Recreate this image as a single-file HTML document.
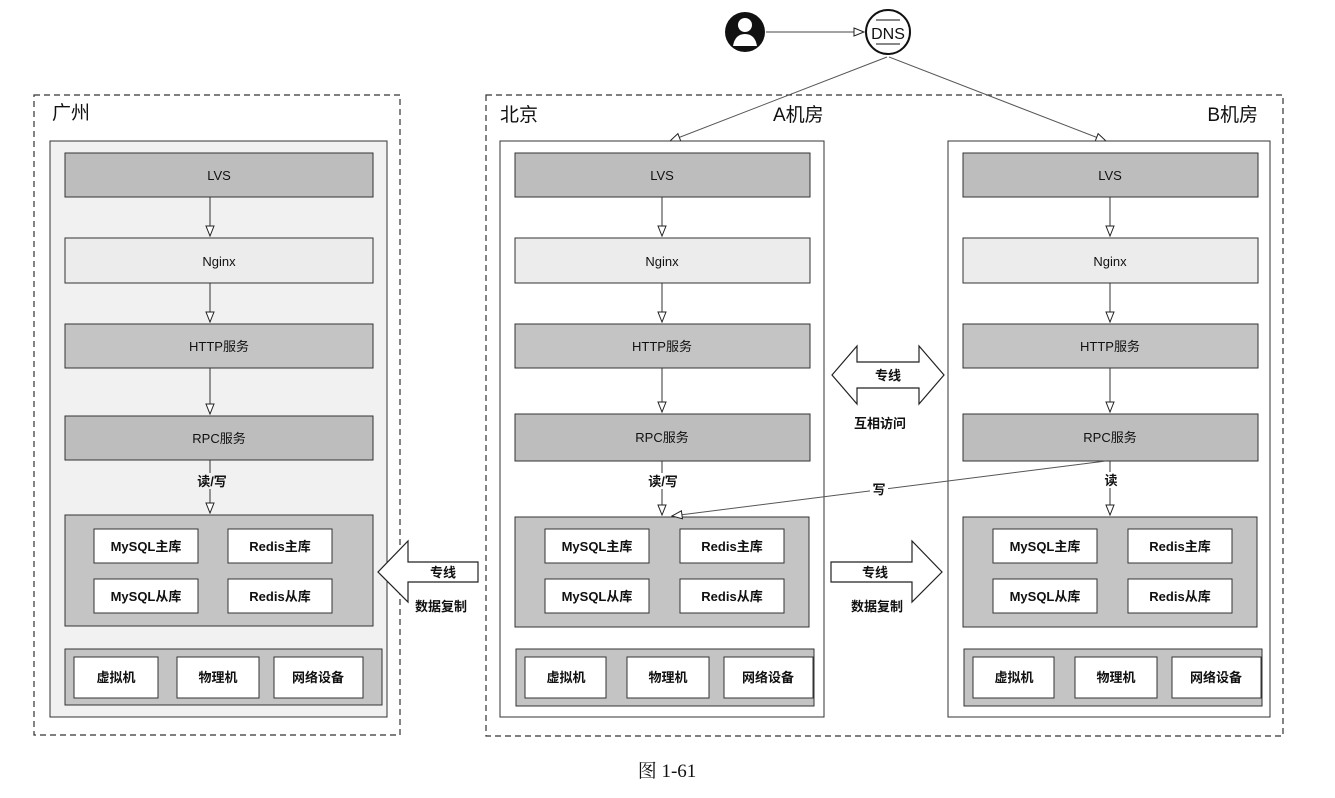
<!DOCTYPE html>
<html><head><meta charset="utf-8"><style>
body{margin:0;background:#fff}
svg{display:block}
text{font-family:"Liberation Sans","Noto Sans CJK SC",sans-serif;fill:#111}
</style></head><body>
<svg width="1335" height="798" viewBox="0 0 1335 798" xmlns="http://www.w3.org/2000/svg">
<defs>
<marker id="ah" markerWidth="12" markerHeight="10" refX="11" refY="5" orient="auto" markerUnits="userSpaceOnUse">
<path d="M1,1 L11,5 L1,9 Z" fill="#fff" stroke="#222" stroke-width="1"/>
</marker>
</defs>
<rect x="34" y="95" width="366" height="640" fill="#fff" stroke="#333" stroke-width="1.2" stroke-dasharray="6,4"/>
<rect x="486" y="95" width="797" height="641" fill="#fff" stroke="#333" stroke-width="1.2" stroke-dasharray="6,4"/>
<text x="52" y="119" font-size="19">广州</text>
<text x="500" y="121" font-size="19">北京</text>
<text x="773" y="121" font-size="19">A机房</text>
<text x="1258" y="121" font-size="19" text-anchor="end">B机房</text>

<circle cx="745" cy="32" r="20" fill="#111"/>
<circle cx="745" cy="25" r="7" fill="#fff"/>
<path d="M733,46 Q735,34 745,34 Q755,34 757,46 Z" fill="#fff"/>
<line x1="766" y1="32" x2="864" y2="32" stroke="#444" stroke-width="1" marker-end="url(#ah)"/>
<circle cx="888" cy="32" r="22" fill="#fff" stroke="#111" stroke-width="2"/>
<text x="888" y="39" font-size="16" text-anchor="middle">DNS</text>
<line x1="876" y1="20" x2="900" y2="20" stroke="#111" stroke-width="1"/>
<line x1="876" y1="44" x2="900" y2="44" stroke="#111" stroke-width="1"/>
<line x1="887" y1="57" x2="670" y2="141" stroke="#555" stroke-width="1" marker-end="url(#ah)"/>
<line x1="889" y1="57" x2="1106" y2="141" stroke="#555" stroke-width="1" marker-end="url(#ah)"/>

<rect x="50" y="141" width="337" height="576" fill="#f1f1f1" stroke="#333" stroke-width="1"/>
<rect x="65" y="153" width="308" height="44" fill="#bdbdbd" stroke="#333"/>
<text x="219" y="180" font-size="13" text-anchor="middle">LVS</text>
<rect x="65" y="238" width="308" height="45" fill="#ececec" stroke="#333"/>
<text x="219" y="266" font-size="13" text-anchor="middle">Nginx</text>
<rect x="65" y="324" width="308" height="44" fill="#c4c4c4" stroke="#333"/>
<text x="219" y="351" font-size="13" text-anchor="middle">HTTP服务</text>
<rect x="65" y="416" width="308" height="44" fill="#bdbdbd" stroke="#333"/>
<text x="219" y="443" font-size="13" text-anchor="middle">RPC服务</text>
<line x1="210" y1="197" x2="210" y2="236" stroke="#333" marker-end="url(#ah)"/>
<line x1="210" y1="283" x2="210" y2="322" stroke="#333" marker-end="url(#ah)"/>
<line x1="210" y1="368" x2="210" y2="414" stroke="#333" marker-end="url(#ah)"/>
<line x1="210" y1="460" x2="210" y2="513" stroke="#333" marker-end="url(#ah)"/>
<rect x="198" y="473" width="28" height="16" fill="#f1f1f1"/>
<text x="212" y="486" font-size="13" text-anchor="middle" font-weight="bold">读/写</text>
<rect x="65" y="515" width="308" height="111" fill="#c4c4c4" stroke="#333"/>
<rect x="94" y="529" width="104" height="34" fill="#fff" stroke="#333"/>
<text x="146" y="551" font-size="13" text-anchor="middle" font-weight="bold">MySQL主库</text>
<rect x="228" y="529" width="104" height="34" fill="#fff" stroke="#333"/>
<text x="280" y="551" font-size="13" text-anchor="middle" font-weight="bold">Redis主库</text>
<rect x="94" y="579" width="104" height="34" fill="#fff" stroke="#333"/>
<text x="146" y="601" font-size="13" text-anchor="middle" font-weight="bold">MySQL从库</text>
<rect x="228" y="579" width="104" height="34" fill="#fff" stroke="#333"/>
<text x="280" y="601" font-size="13" text-anchor="middle" font-weight="bold">Redis从库</text>
<rect x="65" y="649" width="317" height="56" fill="#c4c4c4" stroke="#333"/>
<rect x="74" y="657" width="84" height="41" fill="#fff" stroke="#333"/>
<text x="116" y="682" font-size="13" text-anchor="middle" font-weight="bold">虚拟机</text>
<rect x="177" y="657" width="82" height="41" fill="#fff" stroke="#333"/>
<text x="218" y="682" font-size="13" text-anchor="middle" font-weight="bold">物理机</text>
<rect x="274" y="657" width="89" height="41" fill="#fff" stroke="#333"/>
<text x="318" y="682" font-size="13" text-anchor="middle" font-weight="bold">网络设备</text>

<g transform="translate(450,0)">
<rect x="50" y="141" width="324" height="576" fill="#fff" stroke="#333" stroke-width="1"/>
<rect x="65" y="153" width="295" height="44" fill="#bdbdbd" stroke="#333"/>
<text x="212" y="180" font-size="13" text-anchor="middle">LVS</text>
<rect x="65" y="238" width="295" height="45" fill="#ececec" stroke="#333"/>
<text x="212" y="266" font-size="13" text-anchor="middle">Nginx</text>
<rect x="65" y="324" width="295" height="44" fill="#c4c4c4" stroke="#333"/>
<text x="212" y="351" font-size="13" text-anchor="middle">HTTP服务</text>
<rect x="65" y="414" width="295" height="47" fill="#bdbdbd" stroke="#333"/>
<text x="212" y="442" font-size="13" text-anchor="middle">RPC服务</text>
<line x1="212" y1="197" x2="212" y2="236" stroke="#333" marker-end="url(#ah)"/>
<line x1="212" y1="283" x2="212" y2="322" stroke="#333" marker-end="url(#ah)"/>
<line x1="212" y1="368" x2="212" y2="412" stroke="#333" marker-end="url(#ah)"/>
<line x1="212" y1="461" x2="212" y2="515" stroke="#333" marker-end="url(#ah)"/>
<rect x="196" y="473" width="34" height="16" fill="#fff"/>
<text x="213" y="486" font-size="13" text-anchor="middle" font-weight="bold">读/写</text>
<rect x="65" y="517" width="294" height="110" fill="#c4c4c4" stroke="#333"/>
<rect x="95" y="529" width="104" height="34" fill="#fff" stroke="#333"/>
<text x="147" y="551" font-size="13" text-anchor="middle" font-weight="bold">MySQL主库</text>
<rect x="230" y="529" width="104" height="34" fill="#fff" stroke="#333"/>
<text x="282" y="551" font-size="13" text-anchor="middle" font-weight="bold">Redis主库</text>
<rect x="95" y="579" width="104" height="34" fill="#fff" stroke="#333"/>
<text x="147" y="601" font-size="13" text-anchor="middle" font-weight="bold">MySQL从库</text>
<rect x="230" y="579" width="104" height="34" fill="#fff" stroke="#333"/>
<text x="282" y="601" font-size="13" text-anchor="middle" font-weight="bold">Redis从库</text>
<rect x="66" y="649" width="298" height="57" fill="#c4c4c4" stroke="#333"/>
<rect x="75" y="657" width="81" height="41" fill="#fff" stroke="#333"/>
<text x="116" y="682" font-size="13" text-anchor="middle" font-weight="bold">虚拟机</text>
<rect x="177" y="657" width="82" height="41" fill="#fff" stroke="#333"/>
<text x="218" y="682" font-size="13" text-anchor="middle" font-weight="bold">物理机</text>
<rect x="274" y="657" width="89" height="41" fill="#fff" stroke="#333"/>
<text x="318" y="682" font-size="13" text-anchor="middle" font-weight="bold">网络设备</text>
</g>

<g transform="translate(898,0)">
<rect x="50" y="141" width="322" height="576" fill="#fff" stroke="#333" stroke-width="1"/>
<rect x="65" y="153" width="295" height="44" fill="#bdbdbd" stroke="#333"/>
<text x="212" y="180" font-size="13" text-anchor="middle">LVS</text>
<rect x="65" y="238" width="295" height="45" fill="#ececec" stroke="#333"/>
<text x="212" y="266" font-size="13" text-anchor="middle">Nginx</text>
<rect x="65" y="324" width="295" height="44" fill="#c4c4c4" stroke="#333"/>
<text x="212" y="351" font-size="13" text-anchor="middle">HTTP服务</text>
<rect x="65" y="414" width="295" height="47" fill="#bdbdbd" stroke="#333"/>
<text x="212" y="442" font-size="13" text-anchor="middle">RPC服务</text>
<line x1="212" y1="197" x2="212" y2="236" stroke="#333" marker-end="url(#ah)"/>
<line x1="212" y1="283" x2="212" y2="322" stroke="#333" marker-end="url(#ah)"/>
<line x1="212" y1="368" x2="212" y2="412" stroke="#333" marker-end="url(#ah)"/>
<line x1="212" y1="461" x2="212" y2="515" stroke="#333" marker-end="url(#ah)"/>
<rect x="203" y="472" width="20" height="16" fill="#fff"/>
<text x="213" y="485" font-size="13" text-anchor="middle" font-weight="bold">读</text>
<rect x="65" y="517" width="294" height="110" fill="#c4c4c4" stroke="#333"/>
<rect x="95" y="529" width="104" height="34" fill="#fff" stroke="#333"/>
<text x="147" y="551" font-size="13" text-anchor="middle" font-weight="bold">MySQL主库</text>
<rect x="230" y="529" width="104" height="34" fill="#fff" stroke="#333"/>
<text x="282" y="551" font-size="13" text-anchor="middle" font-weight="bold">Redis主库</text>
<rect x="95" y="579" width="104" height="34" fill="#fff" stroke="#333"/>
<text x="147" y="601" font-size="13" text-anchor="middle" font-weight="bold">MySQL从库</text>
<rect x="230" y="579" width="104" height="34" fill="#fff" stroke="#333"/>
<text x="282" y="601" font-size="13" text-anchor="middle" font-weight="bold">Redis从库</text>
<rect x="66" y="649" width="298" height="57" fill="#c4c4c4" stroke="#333"/>
<rect x="75" y="657" width="81" height="41" fill="#fff" stroke="#333"/>
<text x="116" y="682" font-size="13" text-anchor="middle" font-weight="bold">虚拟机</text>
<rect x="177" y="657" width="82" height="41" fill="#fff" stroke="#333"/>
<text x="218" y="682" font-size="13" text-anchor="middle" font-weight="bold">物理机</text>
<rect x="274" y="657" width="89" height="41" fill="#fff" stroke="#333"/>
<text x="318" y="682" font-size="13" text-anchor="middle" font-weight="bold">网络设备</text>
</g>

<line x1="1106" y1="461" x2="672" y2="516" stroke="#555" stroke-width="1" marker-end="url(#ah)"/>
<rect x="870" y="481" width="18" height="16" fill="#fff"/>
<text x="879" y="494" font-size="13" text-anchor="middle" font-weight="bold">写</text>

<path d="M832,375 L857,346 L857,362 L919,362 L919,346 L944,375 L919,404 L919,388 L857,388 L857,404 Z" fill="#fff" stroke="#222" stroke-width="1.2"/>
<text x="888" y="380" font-size="13" text-anchor="middle" font-weight="bold">专线</text>
<text x="880" y="428" font-size="13" text-anchor="middle" font-weight="bold">互相访问</text>

<path d="M831,562 L912,562 L912,541 L942,572 L912,602 L912,582 L831,582 Z" fill="#fff" stroke="#222" stroke-width="1.2"/>
<text x="875" y="577" font-size="13" text-anchor="middle" font-weight="bold">专线</text>
<text x="877" y="611" font-size="13" text-anchor="middle" font-weight="bold">数据复制</text>

<path d="M478,562 L408,562 L408,541 L378,572 L408,602 L408,582 L478,582 Z" fill="#fff" stroke="#222" stroke-width="1.2"/>
<text x="443" y="577" font-size="13" text-anchor="middle" font-weight="bold">专线</text>
<text x="441" y="611" font-size="13" text-anchor="middle" font-weight="bold">数据复制</text>

<text x="667" y="777" font-size="19" text-anchor="middle" style="font-family:'Liberation Serif','Noto Serif CJK SC',serif">图 1-61</text>
</svg>
</body></html>
